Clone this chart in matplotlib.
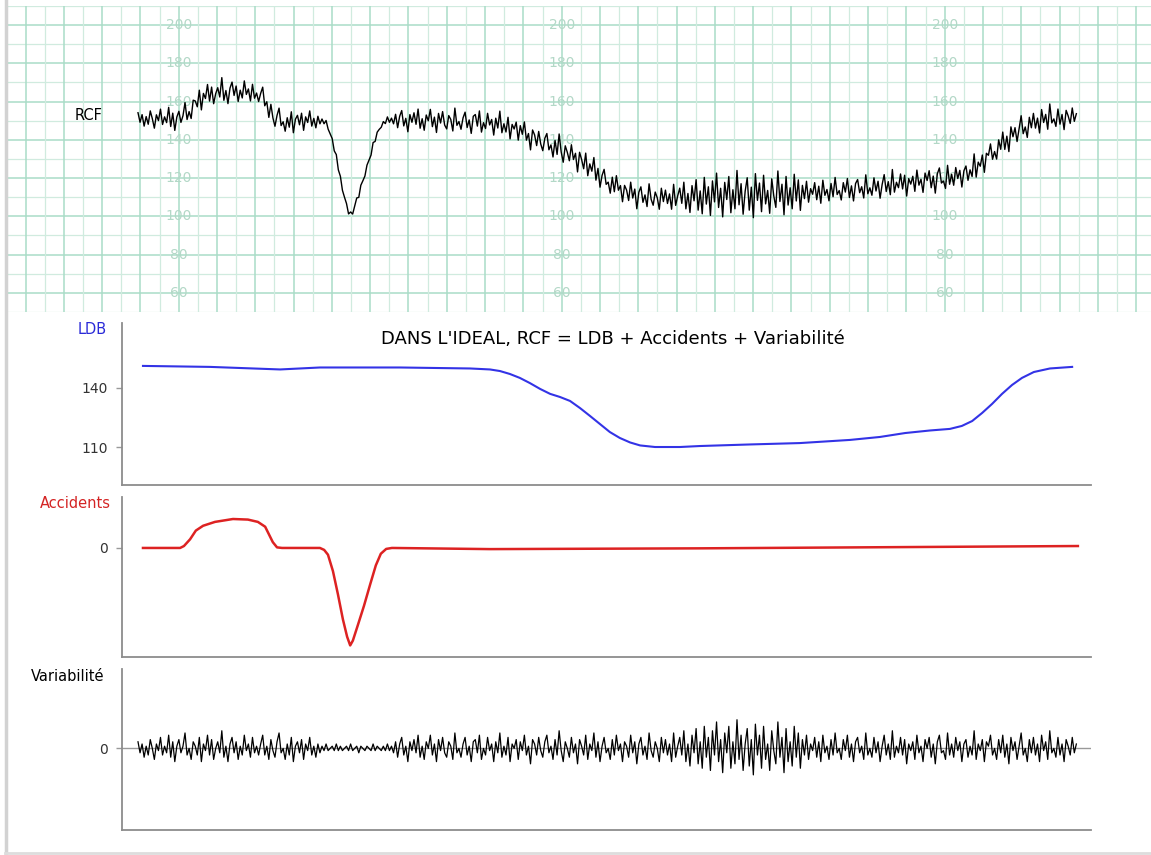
import numpy as np
import matplotlib.pyplot as plt
from matplotlib.lines import Line2D

W, H, DPI = 1151, 855, 100

# temps en minutes (1 min = un grand carreau du papier)
T_END = 24.5

# ligne de base (LDB), bpm
LDB_T = [0.13, 1.88, 3.71, 4.23, 4.75, 6.84, 8.67, 9.19, 9.45, 9.71, 9.97, 10.23,
         10.50, 10.76, 11.02, 11.28, 11.54, 11.80, 12.06, 12.32, 12.58, 12.85,
         13.11, 13.50, 14.15, 14.67, 15.98, 17.28, 18.59, 19.37, 20.03, 20.68,
         21.20, 21.51, 21.78, 22.04, 22.30, 22.56, 22.82, 23.08, 23.39, 23.81, 24.39]
LDB_V = [151.2, 150.7, 149.4, 149.9, 150.4, 150.4, 149.9, 149.4, 148.6, 147.1, 145.1, 142.5,
         139.5, 137.0, 135.4, 133.4, 129.8, 125.8, 121.7, 117.6, 114.6, 112.3,
         110.8, 110.0, 110.0, 110.5, 111.3, 112.0, 113.6, 115.1, 117.1, 118.4,
         119.2, 120.7, 123.2, 127.3, 131.9, 137.0, 141.5, 145.1, 148.1, 149.9, 150.7]

# accidents (accélération puis ralentissement), bpm
ACC_T = [0.13, 1.10, 1.20, 1.36, 1.51, 1.70, 2.01, 2.48, 2.87, 3.13, 3.32, 3.42,
         3.52, 3.63, 3.76, 4.75, 4.86, 4.96, 5.09, 5.22, 5.35, 5.46, 5.54, 5.61,
         5.74, 5.90, 6.06, 6.21, 6.34, 6.48, 6.63, 9.19, 14.67, 24.54]
ACC_V = [0, 0, 1, 4.5, 9, 11.5, 13.5, 15, 14.7, 13.5, 11, 7,
         3, 0.3, 0, 0, -1, -3.5, -12, -24, -37, -46, -50.5, -48,
         -40, -30, -19, -9, -3, -0.5, 0, -0.6, -0.2, 1.0]

# variabilité, bpm
VAR = [3, -2, 2, -4, 1, -3, 4, 0, -5, 2, -1, 5, -3, 1, -2, 6, -4, 3, -6, 1,
       4, -2, 1, 7, -3, 0, -5, 3, 1, -3, 5, -6, 2, -1, 6, -3, 4, -5, 0, 3,
       -2, 8, -4, 1, -6, 2, 5, -2, 3, -5, 1, -3, 6, -1, 2, -4, 5, -2, 1, -3,
       2, 6, -3, 1, -5, 4, -1, -4, 3, 7, -2, 0, -5, 2, -3, 5, -6, 1, 3, -2,
       4, -5, 2, -1, 5, -3, 1, -4, 2, -2, 1, -1, 2, -1, 0, 1, -1, 2, -1, 1,
       -1, 0, 1, -1, 2, -1, 0, 1, -2, 1, 0, -1, 1, 0, -1, 2, -1, 1, 0, -1,
       1, -1, 2, -1, 1, -2, 3, -4, 2, 5, -3, 1, -6, 3, -1, 4, -2, 6, -4, 1,
       -5, 3, 0, 6, -3, 2, -6, 4, -1, 5, -2, -4, 3, 1, -5, 7, -2, 0, -4, 2,
       5, -3, 1, -6, 3, 4, -2, 6, -5, 0, -3, 5, -1, 2, -6, 3, -2, 7, -4, 1,
       -3, 5, -6, 2, 0, 4, -5, 3, -1, 6, -3, 1, -7, 4, 2, -3, 5, -1, -4, 3,
       6, -2, 1, -5, 4, -3, 8, -1, -6, 3, 0, -4, 5, -2, 2, -7, 4, 1, -3, 6,
       -5, 2, -1, 7, -4, 3, -6, 1, 5, -2, 0, -5, 4, -3, 6, -1, 2, -6, 3, 1,
       -4, 6, -2, 3, -7, 2, 5, -3, 1, -5, 7, -1, -4, 3, 0, -6, 5, -2, 4, -3,
       2, -6, 7, -4, 1, 5, -3, 8, -6, 2, -8, 6, -2, 9, -7, 3, -9, 10, -4, 5,
       -10, 8, -3, 12, -6, 4, -11, 7, -2, 10, -9, 3, -7, 13, -5, 6, -10, 2, 9, -8,
       4, -12, 11, -3, 6, -9, 10, -5, 2, -10, 8, -1, -7, 12, -4, 5, -11, 9, -6, 3,
       -8, 10, -4, 7, -9, 4, -3, 6, -5, 2, -1, 5, -4, 3, -6, 6, -2, 1, -5, 4,
       -3, 7, -2, 0, -5, 4, -1, 6, -4, 2, -6, 3, 5, -2, 1, -5, 7, -3, 0, -4,
       5, -2, 3, -6, 1, 6, -3, 2, -5, 8, -4, 1, -2, 5, -3, 4, -7, 2, -1, 3,
       -5, 6, -2, 1, -6, 4, 0, 5, -4, 2, -7, 3, 6, -2, -1, -5, 7, -3, 2, -4,
       5, -1, 3, -6, 2, 4, -4, 1, -3, 8, -5, 2, -1, 4, -6, 3, 1, 6, -3, 0,
       -5, 4, -2, 6, -4, 2, -7, 5, -1, 3, -5, 1, 7, -3, 0, -6, 4, -2, 5, -3,
       2, -6, 6, -1, 3, -5, 8, -2, 0, -4, 5, -3, 2, -6, 4, 1, -3, 5, -2, 2]

RCF_TICKS = [200, 180, 160, 140, 120, 100, 80, 60]
LDB_TICKS = [140, 110]
TITLE = "DANS L'IDEAL, RCF = LDB + Accidents + Variabilité"

# RCF = LDB + Accidents + Variabilité
t = np.linspace(0, T_END, len(VAR))
rcf = np.interp(t, LDB_T, LDB_V) + np.interp(t, ACC_T, ACC_V) + np.array(VAR)

PX_MIN = 38.3          # pixels par minute
def tx(px):
    return (px - 138) / PX_MIN

def box(l, t_, r, b):
    return [l / W, 1 - b / H, (r - l) / W, (b - t_) / H]

fig = plt.figure(figsize=(W / DPI, H / DPI), dpi=DPI)
fig.patch.set_facecolor('white')

# --- papier CTG ---
ax0 = fig.add_axes(box(7, 6, 1151, 312))
ax0.set_xlim(tx(7), tx(1151))
ax0.set_ylim(50, 210)
ax0.axis('off')
for v in range(50, 211, 10):
    major = v % 20 == 0
    ax0.axhline(v, color='#aadcc8' if major else '#d0ebdf', lw=1.1 if major else 0.9, zorder=0)
x0 = tx(178.7)
for k in range(-5, 27):
    ax0.axvline(x0 + k, color='#aadcc8', lw=1.1, zorder=0)
    ax0.axvline(x0 + k + 0.5, color='#d0ebdf', lw=0.9, zorder=0)
for lx in [x0, x0 + 10, x0 + 20]:
    for v in RCF_TICKS:
        ax0.text(lx, v, str(v), ha='center', va='center', color='#b3d8c7', fontsize=10, zorder=1)
ax0.plot(t, rcf, color='black', lw=1.0, zorder=3)
fig.text(89 / W, 1 - 115 / H, 'RCF', ha='center', va='center', fontsize=10.5)


def panel(rect, ylim, ticks, label, color, label_xy):
    ax = fig.add_axes(rect)
    ax.set_xlim(tx(122), tx(1091))
    ax.set_ylim(*ylim)
    for s in ['top', 'right']:
        ax.spines[s].set_visible(False)
    for s in ['left', 'bottom']:
        ax.spines[s].set_color('#8c8c8c')
        ax.spines[s].set_linewidth(1.3)
    ax.set_xticks([])
    ax.set_yticks(ticks)
    ax.tick_params(axis='y', length=4, width=1, color='#999999', pad=6,
                   labelsize=10, labelcolor='#333333')
    fig.text(label_xy[0] / W, 1 - label_xy[1] / H, label, ha='right', va='center',
             fontsize=10.5, color=color)
    return ax


ax1 = panel(box(122, 323, 1091, 485), (90.7, 173), LDB_TICKS, 'LDB', '#2a2ad8', (107, 330))
ax1.plot(LDB_T, LDB_V, color='#3333e6', lw=1.5)
fig.text(613 / W, 1 - 339 / H, TITLE, ha='center', va='center', fontsize=13)

ax2 = panel(box(122, 497, 1091, 657), (-56.5, 26.4), [0], 'Accidents', '#d42424', (111, 503))
ax2.plot(ACC_T, ACC_V, color='#dd2222', lw=1.8)

ax3 = panel(box(122, 669, 1091, 830), (-37, 36), [0], 'Variabilité', 'black', (104, 676))
ax3.axhline(0, color='#999999', lw=1, zorder=1)
ax3.plot(t, VAR, color='black', lw=0.9, zorder=2)

# cadre gris clair
fig.add_artist(Line2D([5.5 / W, 5.5 / W], [0, 1], color='#d2d2d2', lw=2.5))
fig.add_artist(Line2D([5 / W, 1], [1 - 852.5 / H, 1 - 852.5 / H], color='#dddddd', lw=2))

fig.savefig('out.png', dpi=DPI, facecolor='white')
